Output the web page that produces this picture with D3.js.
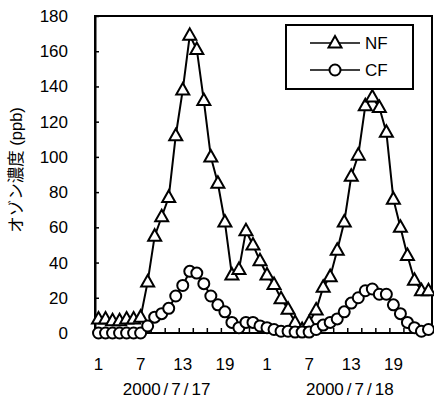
<!DOCTYPE html>
<html>
<head>
<meta charset="utf-8">
<script src="https://cdn.jsdelivr.net/npm/d3@7"></script>
<style>
  html, body { margin: 0; padding: 0; background: #fff; }
  svg { display: block; }
  text { font-family: "Liberation Sans", Arial, "Noto Sans CJK JP", sans-serif; fill: #000; }
</style>
</head>
<body>
<svg id="chart" width="434" height="400"></svg>
<script>
// ---- data ----
const hours = [1,2,3,4,5,6,7,8,9,10,11,12,13,14,15,16,17,18,19,20,21,22,23,24,
               1,2,3,4,5,6,7,8,9,10,11,12,13,14,15,16,17,18,19,20,21,22,23,24];
const nfValues = [8,8,7,7,8,8,9,29,55,66,77,112,138,169,161,132,100,85,63,33,36,58,50,41,
                  33,27.5,19.5,13.5,6,2,6,13,26,32,47,63,89,101,129,134,128,114,76,60,44,30,24,24];
const cfValues = [0,0,0,0,0,0,0,4,9,11,14,21,27,35,34,28,21,16,12,6,3,6,6,4,
                  3,2,1,1,0.5,0.5,0.5,2,4.5,6,8,12,17,20,24,25,22,22,16,11,6,3,1,2];
const xTickLabels = ["1","7","13","19","1","7","13","19"];
const dateLabels = ["2000/7/17","2000/7/18"];
const yTicks = [0,20,40,60,80,100,120,140,160,180];
const seriesNames = ["NF","CF"];
const yTitle = "オゾン濃度 (ppb)";

// ---- layout ----
const svg = d3.select("#chart");
const L = 95, R = 432, T = 16, B = 333;
const idx = d3.range(hours.length);
const x = d3.scaleBand().domain(idx).range([L, R]).padding(0);
const cx = i => x(i) + x.bandwidth() / 2;
const y = d3.scaleLinear().domain([0, 180]).range([B, T]);

// frame
svg.append("rect").attr("x", L).attr("y", T).attr("width", R - L).attr("height", B - T)
  .attr("fill", "none").attr("stroke", "#000").attr("stroke-width", 2);

// y axis (ticks inward)
const yAxis = d3.axisLeft(y).tickValues(yTicks).tickSize(-4).tickPadding(27).tickSizeOuter(0);
const gy = svg.append("g").attr("transform", `translate(${L},0)`).call(yAxis);
gy.select(".domain").attr("stroke-width", 2);
gy.selectAll(".tick line").attr("stroke-width", 1.5);
gy.selectAll(".tick text").attr("font-size", 17).attr("font-family", "Liberation Sans, Arial, sans-serif");

// x axis ticks every 2 categories (at boundaries), inward
const bounds = d3.range(0, hours.length + 1, 2);
svg.append("g").selectAll("line").data(bounds).join("line")
  .attr("x1", k => L + k * x.bandwidth()).attr("x2", k => L + k * x.bandwidth())
  .attr("y1", B).attr("y2", B - 5).attr("stroke", "#000").attr("stroke-width", 1.5);
svg.append("line").attr("x1", L).attr("x2", R).attr("y1", B).attr("y2", B)
  .attr("stroke", "#000").attr("stroke-width", 2);

// x tick labels
const labelIdx = idx.filter(i => (hours[i] - 1) % 6 === 0);
svg.append("g").selectAll("text").data(labelIdx).join("text")
  .attr("x", i => cx(i)).attr("y", 370).attr("text-anchor", "middle")
  .attr("font-size", 17).text((i, k) => xTickLabels[k]);

// date labels
const dateCenters = [9.7, 35.8];
dateLabels.forEach((lab, k) => {
  const t = svg.append("text").attr("x", cx(0) + dateCenters[k] * x.bandwidth())
    .attr("y", 395).attr("text-anchor", "middle").attr("font-size", 17);
  const parts = lab.split("/");
  parts.forEach((p, j) => {
    if (j > 0) t.append("tspan").attr("dx", 3).text("/");
    t.append("tspan").attr("dx", j > 0 ? 3 : 0).text(p);
  });
});

// y title
svg.append("text").attr("transform", "translate(22,170) rotate(-90)")
  .attr("text-anchor", "middle").attr("font-size", 16.5).text(yTitle);

// series
const line = d3.line().x((d, i) => cx(i)).y(d => y(d));
const triPath = "M0,-7 L6.5,4.5 L-6.5,4.5 Z";

function drawSeries(vals, shape) {
  svg.append("path").datum(vals).attr("d", line).attr("fill", "none")
    .attr("stroke", "#000").attr("stroke-width", 2);
  const g = svg.append("g");
  vals.forEach((v, i) => {
    if (shape === "tri") {
      g.append("path").attr("d", triPath).attr("transform", `translate(${cx(i)},${y(v)})`)
        .attr("fill", "#fff").attr("stroke", "#000").attr("stroke-width", 2).attr("stroke-linejoin", "miter");
    } else {
      g.append("circle").attr("cx", cx(i)).attr("cy", y(v)).attr("r", 5.5)
        .attr("fill", "#fff").attr("stroke", "#000").attr("stroke-width", 2);
    }
  });
}
drawSeries(nfValues, "tri");
drawSeries(cfValues, "circ");

// legend
const lg = svg.append("g");
lg.append("rect").attr("x", 286).attr("y", 25).attr("width", 127).attr("height", 64)
  .attr("fill", "#fff").attr("stroke", "#000").attr("stroke-width", 2);
seriesNames.forEach((name, k) => {
  const yy = 43 + k * 27;
  lg.append("line").attr("x1", 310).attr("x2", 360).attr("y1", yy).attr("y2", yy)
    .attr("stroke", "#000").attr("stroke-width", 1.5);
  if (k === 0) {
    lg.append("path").attr("d", triPath).attr("transform", `translate(335,${yy})`)
      .attr("fill", "#fff").attr("stroke", "#000").attr("stroke-width", 2);
  } else {
    lg.append("circle").attr("cx", 335).attr("cy", yy).attr("r", 5.5)
      .attr("fill", "#fff").attr("stroke", "#000").attr("stroke-width", 2);
  }
  lg.append("text").attr("x", 365).attr("y", yy + 6).attr("font-size", 17).text(name);
});
</script>
</body>
</html>
